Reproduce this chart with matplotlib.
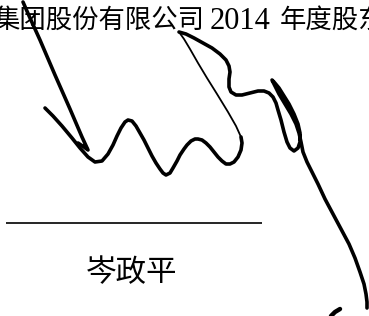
import numpy as np
import matplotlib
matplotlib.use("Agg")
import matplotlib.pyplot as plt

# ---- text content ----
header_left = "集团股份有限公司"
header_year = "2014"
header_right = "年度股东"
signer_name = "岑政平"

# ---- signature strokes (x, y in image pixels, y downward) ----
stroke_arrow_x = [23, 30, 40, 55, 70, 82, 88, 84, 78]
stroke_arrow_y = [2, 18, 40, 75, 109, 137, 150, 147, 143]

stroke_wave_x = [45, 53, 62, 72, 80, 88, 95, 102, 108, 113, 117, 121, 125, 128, 132, 136, 140,
                 144, 148, 152, 156, 160, 163, 166, 170, 173, 177, 180, 184, 187, 191, 195, 198,
                 202, 206, 210, 214, 218, 222, 226, 230, 234, 238, 241, 242, 241]
stroke_wave_y = [108, 116, 126, 138, 148, 157, 162, 161, 154, 145, 136, 128, 122, 120, 121, 126, 133,
                 140, 148, 156, 163, 169, 173, 175, 173, 168, 161, 155, 149, 145, 141, 139, 139,
                 140, 143, 147, 152, 157, 161, 164, 164, 162, 157, 150, 143, 137]

stroke_thin_x = [241, 236, 228, 217, 207, 198, 190, 184, 179]
stroke_thin_y = [137, 126, 112, 94, 78, 63, 49, 39, 32]

stroke_loop_x = [179, 186, 194, 203, 212, 220, 226, 229, 230, 229, 229, 231, 236, 242, 250, 258, 264,
                 269, 273, 276, 278, 281, 284, 287, 290, 294, 298, 300, 300, 298, 294, 289, 284,
                 279, 274, 272, 274, 279, 285, 291, 296, 299, 301, 303, 307, 312, 318, 325, 333,
                 341, 349, 355, 360, 364, 366, 367, 367]
stroke_loop_y = [32, 34, 38, 43, 48, 54, 60, 66, 72, 79, 87, 92, 95, 95, 93, 91, 91,
                 93, 97, 103, 110, 120, 132, 142, 148, 151, 148, 142, 133, 124, 114, 104, 96,
                 88, 82, 80, 84, 94, 104, 114, 124, 133, 142, 152, 162, 172, 184, 199, 214,
                 229, 244, 258, 272, 284, 294, 302, 308]

stroke_mark_x = [331, 335, 340]
stroke_mark_y = [316, 312, 309]

rule_x = [6, 262]
rule_y = [223, 223]

fig = plt.figure(figsize=(3.69, 3.16), dpi=100)
ax = fig.add_axes([0, 0, 1, 1])
ax.set_xlim(0, 369)
ax.set_ylim(316, 0)
ax.axis("off")

cjk = ["Noto Sans CJK SC", "DejaVu Sans"]

ax.text(-7, 28, header_left, fontsize=19, family=cjk, va="baseline", ha="left", color="black")
ax.text(210, 29, header_year, fontsize=22, family=["Liberation Serif"], va="baseline", ha="left",
        color="black")
ax.text(280, 28, header_right, fontsize=19, family=cjk, va="baseline", ha="left", color="black")

ax.plot(rule_x, rule_y, color="black", lw=1.2, solid_capstyle="butt")
ax.text(132, 281, signer_name, fontsize=22, family=cjk, va="baseline", ha="center", color="black")

kw = dict(color="black", solid_joinstyle="round", solid_capstyle="round")
ax.plot(stroke_arrow_x, stroke_arrow_y, lw=2.6, **kw)
ax.plot(stroke_wave_x, stroke_wave_y, lw=2.6, **kw)
ax.plot(stroke_thin_x, stroke_thin_y, lw=1.3, **kw)
ax.plot(stroke_loop_x, stroke_loop_y, lw=2.6, **kw)
ax.plot(stroke_mark_x, stroke_mark_y, lw=3.2, **kw)

fig.savefig("out.png", dpi=100, facecolor="white")
